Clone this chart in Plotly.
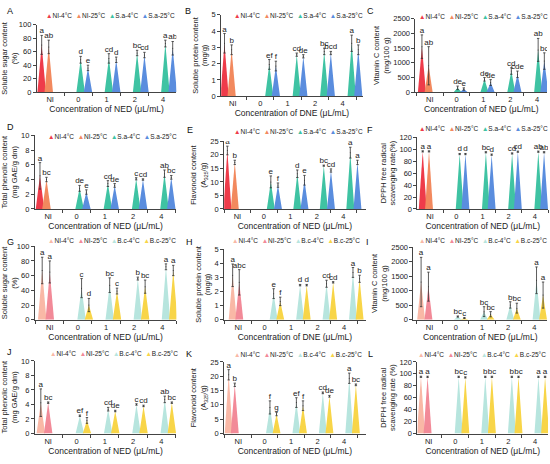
import plotly.graph_objects as go

W, H = 550, 464
FONT = "Liberation Sans, Arial"

groups = ["NI", "0", "1", "2", "4"]
top_series = ["NI-4°C", "NI-25°C", "S.a-4°C", "S.a-25°C"]
bottom_series = ["NI-4°C", "NI-25°C", "B.c-4°C", "B.c-25°C"]
top_colors = ["#EE3B4A", "#F2895E", "#3FC3A3", "#5A8DDE"]
bottom_colors = ["#F9B8A6", "#F28A98", "#B7E5DE", "#F8D548"]

# order: NI-4, NI-25, 0-4, 0-25, 1-4, 1-25, 2-4, 2-25, 4-4, 4-25
A_mean = [70, 67, 48, 36, 50, 48, 58, 55, 72, 65]
A_err = [14, 10, 5, 4, 7, 4, 4, 4, 5, 10]
A_sig = ["a", "ab", "d", "e", "cd", "d", "bc", "cd", "a", "ab"]

B_mean = [3.25, 2.85, 1.95, 1.85, 2.55, 2.45, 2.75, 2.65, 3.25, 2.85]
B_err = [0.6, 0.3, 0.3, 0.3, 0.1, 0.1, 0.2, 0.1, 0.5, 0.3]
B_sig = ["a", "b", "ef", "f", "cd", "de", "bc", "bcd", "a", "b"]

C_mean = [1550, 900, 150, 110, 440, 330, 720, 610, 1440, 1060]
C_err = [400, 650, 60, 40, 60, 100, 110, 110, 390, 280]
C_sig = ["a", "ab", "de", "e", "de", "de", "cd", "cde", "ab", "bc"]

D_mean = [4.5, 4.0, 2.8, 2.3, 3.45, 3.2, 4.1, 4.0, 4.8, 4.3]
D_err = [1.8, 0.3, 0.4, 0.3, 0.4, 0.25, 0.15, 0.1, 0.5, 0.25]
D_sig = ["a", "bc", "de", "e", "cd", "de", "c", "cd", "ab", "bc"]

E_mean = [21.6, 17.2, 10, 8.8, 13, 10.6, 16, 14.2, 20.8, 17.2]
E_err = [1.6, 0.8, 2.2, 0.8, 1.4, 1.8, 0.2, 0.6, 2.0, 0.8]
E_sig = ["a", "b", "e", "f", "d", "e", "bc", "cd", "a", "a"]

F_mean = [96.5, 96.5, 92, 92, 95, 91, 93, 96, 96, 95]
F_err = [1, 1, 1, 1, 1, 1, 1, 1, 1, 1]
F_sig = ["a", "a", "d", "d", "bc", "d", "cd", "cd", "ab", "ab"]

G_mean = [67, 65, 43, 20, 47, 39, 56, 45, 72, 67]
G_err = [18, 15, 13, 9, 10, 4, 2, 9, 4, 7]
G_sig = ["a", "a", "c", "d", "bc", "c", "b", "bc", "a", "a"]

H_mean = [3.15, 2.65, 1.85, 1.3, 2.45, 2.45, 2.55, 2.65, 3.35, 2.9]
H_err = [0.8, 0.9, 0.35, 0.3, 0.05, 0.05, 0.25, 0.05, 0.35, 0.25]
H_sig = ["a", "abc", "e", "f", "d", "d", "cd", "cd", "a", "b"]

I_mean = [1300, 1140, 110, 60, 280, 190, 510, 400, 1360, 850]
I_err = [850, 500, 20, 15, 170, 90, 110, 170, 460, 450]
I_sig = ["a", "a", "bc", "c", "bc", "bc", "b", "bc", "a", "a"]

J_mean = [4.25, 4.25, 2.45, 1.8, 3.35, 3.1, 4.0, 3.8, 4.7, 4.25]
J_err = [1.9, 0.1, 0.1, 0.4, 0.25, 0.1, 0.1, 0.1, 0.45, 0.1]
J_sig = ["a", "bc", "ef", "f", "cd", "de", "c", "cd", "ab", "bc"]

K_mean = [20.5, 17, 9.1, 6.8, 10.8, 9.7, 14.2, 13, 19.3, 17]
K_err = [1.8, 0.6, 2.3, 0.6, 1.7, 1.7, 0.3, 0.3, 1.8, 0.3]
K_sig = ["a", "b", "f", "g", "ef", "f", "cd", "de", "a", "bc"]

L_mean = [95, 95, 95, 94, 95, 95, 95, 95, 95, 95]
L_err = [1, 1, 1, 1, 1, 1, 1, 1, 1, 1]
L_sig = ["a", "a", "bc", "c", "b", "bc", "b", "bc", "a", "a"]

t_sugar = "Soluble sugar content<br>(%)"
t_protein = "Soluble protein content<br>(mg/g)"
t_vc = "Vitamin C content<br>(mg/100 g)"
t_phen = "Total phenolic content<br>(mg GAE/g dm)"
t_flav = "Flavonoid content<br>(A<sub>325</sub>/g)"
x_ned = "Concentration of NED (μL/mL)"
x_dne = "Concentration of DNE (μL/mL)"

# layout per panel, pixel positions
panels = [
    dict(k="A", d=(A_mean, A_err, A_sig), yt=t_sugar, xt=x_ned, ymax=100, dt=20, bot=False,
         dx=(35, 175), dy=(21, 90), xr=(-0.47, 4.47), ni=(-0.3, -0.05), off=(0.08, 0.34), leg=(43, 12), let=(3, 7)),
    dict(k="B", d=(B_mean, B_err, B_sig), yt=t_protein, xt=x_dne, ymax=5, dt=1, bot=False,
         dx=(220, 362), dy=(11, 94), xr=(-0.42, 4.73), ni=(-0.3, -0.04), off=(0.33, 0.57), leg=(232, 12), let=(182, 7)),
    dict(k="C", d=(C_mean, C_err, C_sig), yt=t_vc, xt=x_ned, ymax=2500, dt=500, bot=False,
         dx=(415, 547), dy=(15, 90), xr=(-0.53, 4.37), ni=(-0.29, -0.04), off=(0.04, 0.27), leg=(418, 13), let=(364, 7)),
    dict(k="D", d=(D_mean, D_err, D_sig), yt=t_phen, xt=x_ned, ymax=10, dt=2, bot=False,
         dx=(33, 175), dy=(134, 209), xr=(-0.47, 4.53), ni=(-0.29, -0.06), off=(0.11, 0.35), leg=(45, 135), let=(3, 125)),
    dict(k="E", d=(E_mean, E_err, E_sig), yt=t_flav, xt=x_ned, ymax=25, dt=5, bot=False,
         dx=(223, 365), dy=(140, 209), xr=(-0.5, 4.84), ni=(-0.38, -0.1), off=(0.26, 0.53), leg=(232, 130), let=(184, 128)),
    dict(k="F", d=(F_mean, F_err, F_sig), yt="DPPH free radical<br>scavenging rate(%)", xt=x_ned, ymax=120, dt=20, bot=False,
         dx=(417, 548), dy=(136, 209), xr=(-0.48, 4.5), ni=(-0.28, -0.04), off=(0.13, 0.35), leg=(418, 127), let=(364, 128)),
    dict(k="G", d=(G_mean, G_err, G_sig), yt=t_sugar, xt=x_ned, ymax=100, dt=20, bot=True,
         dx=(33, 175), dy=(247, 322), xr=(-0.53, 4.5), ni=(-0.27, 0.0), off=(0.13, 0.39), leg=(45, 241), let=(3, 243)),
    dict(k="H", d=(H_mean, H_err, H_sig), yt=t_protein, xt=x_dne, ymax=5, dt=1, bot=True,
         dx=(223, 365), dy=(250, 322), xr=(-0.53, 4.82), ni=(-0.21, 0.04), off=(0.34, 0.59), leg=(230, 241), let=(183, 243)),
    dict(k="I", d=(I_mean, I_err, I_sig), yt=t_vc, xt=x_ned, ymax=2500, dt=500, bot=True,
         dx=(413, 547), dy=(248, 322), xr=(-0.61, 4.48), ni=(-0.32, -0.04), off=(0.08, 0.33), leg=(418, 241), let=(363, 243)),
    dict(k="J", d=(J_mean, J_err, J_sig), yt=t_phen, xt=x_ned, ymax=10, dt=2, bot=True,
         dx=(33, 175), dy=(364, 438), xr=(-0.47, 4.53), ni=(-0.26, 0.0), off=(0.12, 0.37), leg=(47, 356), let=(3, 355)),
    dict(k="K", d=(K_mean, K_err, K_sig), yt=t_flav, xt=x_ned, ymax=25, dt=5, bot=True,
         dx=(223, 365), dy=(365, 438), xr=(-0.53, 4.82), ni=(-0.36, -0.13), off=(0.2, 0.45), leg=(232, 357), let=(183, 357)),
    dict(k="L", d=(L_mean, L_err, L_sig), yt="DPPH free radical<br>scavenging rate (%)", xt=x_ned, ymax=120, dt=20, bot=True,
         dx=(417, 548), dy=(365, 438), xr=(-0.42, 4.49), ni=(-0.29, -0.04), off=(0.13, 0.38), leg=(417, 357), let=(365, 357)),
]

HALF = 0.15
fig = go.Figure()
annotations = []

for n, p in enumerate(panels, start=1):
    xa = "x" if n == 1 else f"x{n}"
    ya = "y" if n == 1 else f"y{n}"
    means, errs, sigs = p["d"]
    colors = bottom_colors if p["bot"] else top_colors
    names = bottom_series if p["bot"] else top_series

    # peak positions
    xs = []
    for i in range(len(groups)):
        offs = p["ni"] if i == 0 else p["off"]
        xs += [i + offs[0], i + offs[1]]

    # series 0,1 = NI pair, series 2,3 = treatment pairs
    for s in range(4):
        idx = [s] if s < 2 else [2 + 2 * g + (s - 2) for g in range(4)]
        tx, ty = [], []
        for j in idx:
            tx += [xs[j] - HALF, xs[j], xs[j] + HALF, None]
            ty += [0, means[j], 0, None]
        fig.add_trace(go.Scatter(x=tx, y=ty, mode="lines", fill="toself", fillcolor=colors[s],
                                 line=dict(width=0, color=colors[s]), xaxis=xa, yaxis=ya,
                                 showlegend=False, hoverinfo="skip"))

    fig.add_trace(go.Scatter(x=xs, y=means, mode="markers", marker=dict(size=1, color="#333"),
                             error_y=dict(type="data", array=errs, color="#333", thickness=0.8, width=1.2),
                             xaxis=xa, yaxis=ya, showlegend=False))
    fig.add_trace(go.Scatter(x=xs, y=[m + e for m, e in zip(means, errs)], mode="text", text=sigs,
                             textposition="top center", textfont=dict(size=8, color="#222", family=FONT),
                             xaxis=xa, yaxis=ya, showlegend=False))

    axis_common = dict(showline=True, linecolor="#444", linewidth=1, showgrid=False, zeroline=False,
                       tickfont=dict(size=7.5, color="#222", family=FONT))
    fig.layout[xa.replace("x", "xaxis")] = dict(
        axis_common, domain=[p["dx"][0] / W, p["dx"][1] / W], anchor=ya, range=list(p["xr"]),
        tickmode="array", tickvals=list(range(len(groups))), ticktext=groups, ticks="",
        minor=dict(tickvals=[-0.5, 0.5, 1.5, 2.5, 3.5, 4.5], ticks="outside", ticklen=3, tickcolor="#444"),
        title=dict(text=p["xt"], font=dict(size=8.5, color="#222", family=FONT), standoff=1))
    fig.layout[ya.replace("y", "yaxis")] = dict(
        axis_common, domain=[1 - p["dy"][1] / H, 1 - p["dy"][0] / H], anchor=xa, range=[0, p["ymax"]],
        dtick=p["dt"], ticks="outside", ticklen=3, tickcolor="#444",
        title=dict(text=p["yt"], font=dict(size=7.5, color="#222", family=FONT), standoff=2))

    leg = "\u00a0\u00a0".join(
        f'<span style="color:{c};font-size:6.5px">▲</span>{nm}' for c, nm in zip(colors, names))
    annotations.append(dict(text=leg, x=p["leg"][0] / W, y=1 - p["leg"][1] / H, xref="paper", yref="paper",
                            xanchor="left", yanchor="middle", showarrow=False, borderpad=0,
                            font=dict(size=6.5, color="#222", family=FONT)))
    annotations.append(dict(text=p["k"], x=p["let"][0] / W, y=1 - p["let"][1] / H, xref="paper", yref="paper",
                            xanchor="left", yanchor="middle", showarrow=False,
                            font=dict(size=9, color="#111", family=FONT)))

fig.update_layout(width=W, height=H, margin=dict(l=0, r=0, t=0, b=0),
                  plot_bgcolor="white", paper_bgcolor="white", annotations=annotations,
                  font=dict(family=FONT))

# page body has a default margin; drop it so the figure sits at the corner
fig.write_html("out.html", config={"displayModeBar": False},
               post_script="document.body.style.margin='0px';")
